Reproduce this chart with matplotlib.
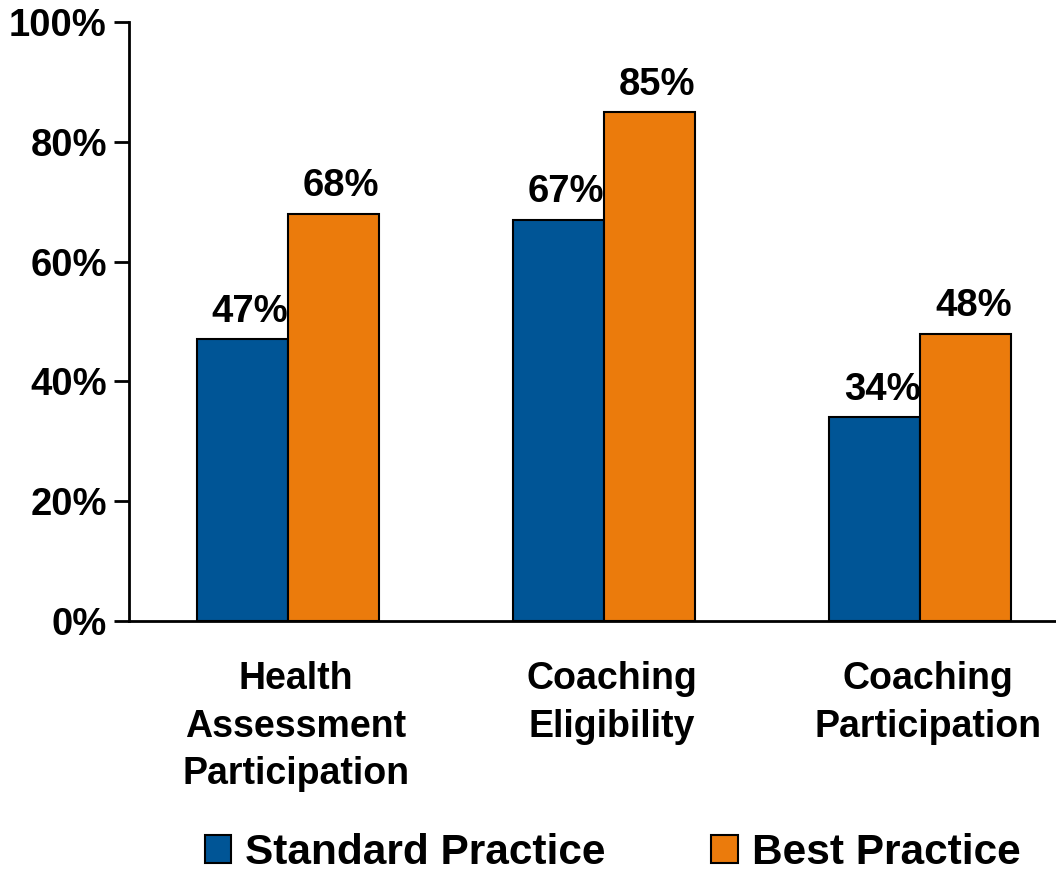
import matplotlib.pyplot as plt
import matplotlib.transforms as mtransforms
import numpy as np
from matplotlib.patches import Patch

plt.rcParams['font.family'] = ['Liberation Sans', 'DejaVu Sans']
plt.rcParams['font.weight'] = 'bold'

categories = ["Health\nAssessment\nParticipation", "Coaching\nEligibility", "Coaching\nParticipation"]
standard = [47, 67, 34]
best = [68, 85, 48]
series_names = ["Standard Practice", "Best Practice"]
blue = "#005596"
orange = "#EB7B0C"

fig = plt.figure(figsize=(10.56, 8.71), dpi=100)
ax = fig.add_axes([0.1222, 0.287, 0.8778, 0.6877])

x = np.arange(len(categories))
width = 0.288

b1 = ax.bar(x - width/2, standard, width, color=blue, edgecolor="black", linewidth=1.5)
b2 = ax.bar(x + width/2, best, width, color=orange, edgecolor="black", linewidth=1.5)

# value labels above each bar
for bars, vals in ((b1, standard), (b2, best)):
    for bar, v in zip(bars, vals):
        ax.annotate(f"{v}%", (bar.get_x() + bar.get_width()/2, v),
                    xytext=(5.5, 12.5), textcoords="offset points",
                    ha="center", va="baseline", fontsize=27.5, fontweight="bold")

ax.set_xlim(-0.503, 2.43)
ax.set_ylim(0, 100)
ax.set_yticks(np.arange(0, 101, 20))
ax.set_yticklabels([f"{t}%" for t in range(0, 101, 20)], fontsize=27.5, fontweight="bold")
ax.set_xticks(x)
ax.set_xticklabels(categories, fontsize=27, fontweight="bold", linespacing=1.4)
ax.tick_params(axis="x", length=0, pad=29)
ax.tick_params(axis="y", length=11, width=2, pad=5)

# nudge category labels a little to the right
shift = mtransforms.ScaledTranslation(8 / 100, 0, fig.dpi_scale_trans)
for lbl in ax.get_xticklabels():
    lbl.set_transform(lbl.get_transform() + shift)

for s in ("top", "right"):
    ax.spines[s].set_visible(False)
for s in ("left", "bottom"):
    ax.spines[s].set_linewidth(2)

handles = [Patch(facecolor=blue, edgecolor="black", linewidth=1.5),
           Patch(facecolor=orange, edgecolor="black", linewidth=1.5)]
fig.legend(handles, series_names, loc="center", bbox_to_anchor=(0.58, 0.021),
           ncol=2, frameon=False, prop={"weight": "bold", "size": 30.5},
           handlelength=0.62, handleheight=0.62, handletextpad=0.33,
           columnspacing=2.5, borderpad=0)

fig.savefig("out.png", dpi=100)
